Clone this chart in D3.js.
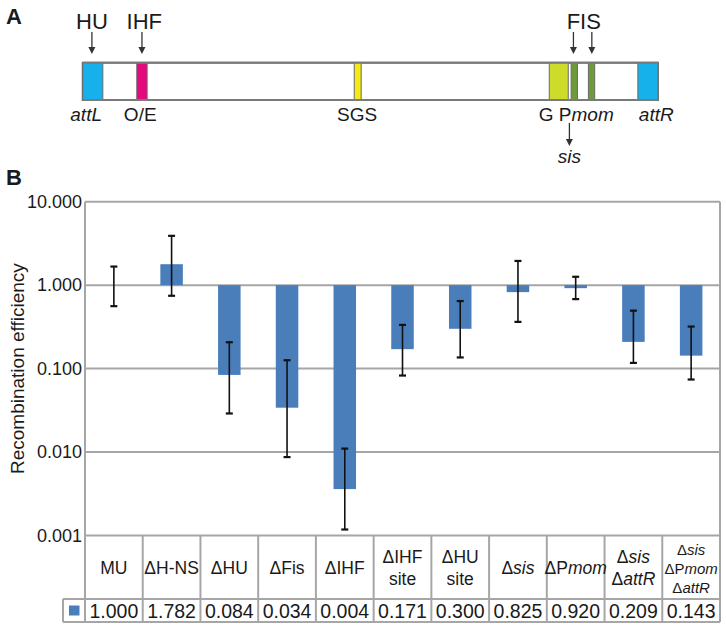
<!DOCTYPE html>
<html>
<head>
<meta charset="utf-8">
<script src="https://cdn.jsdelivr.net/npm/d3@7"></script>
<style>
  html, body { margin: 0; padding: 0; background: #fff; }
  svg { display: block; font-family: "Liberation Sans", Arial, sans-serif; }
</style>
</head>
<body>
<svg id="chart" width="726" height="628"></svg>
<script>
// ---------- DATA ----------
// Panel B: categories (header text; *...* = italic, | = line break), values, error bar limits
const categories = ["MU", "ΔH-NS", "ΔHU", "ΔFis", "ΔIHF", "ΔIHF|site", "ΔHU|site", "Δ*sis*", "ΔP*mom*", "Δ*sis*|Δ*attR*", "Δ*sis*|ΔP*mom*|Δ*attR*"];
const values     = [1.000, 1.782, 0.084, 0.034, 0.0036, 0.171, 0.300, 0.825, 0.920, 0.209, 0.143];
const errHigh    = [1.67, 3.9, 0.207, 0.126, 0.011, 0.334, 0.645, 1.95, 1.26, 0.495, 0.319];
const errLow     = [0.56, 0.746, 0.029, 0.0087, 0.00118, 0.0826, 0.136, 0.363, 0.68, 0.117, 0.074];
const yTicks     = [10, 1, 0.1, 0.01, 0.001];
const yTitle     = "Recombination efficiency";

// Panel A: schematic features (positions in schematic units 0..1000)
const featureNames  = ["attL", "O/E", "SGS", "G", "P1", "P2", "attR"];
const featureStart  = [0, 94, 472, 811, 849, 879, 965];
const featureEnd    = [35, 112, 484, 844, 860, 890, 1000];
const featureColors = ["#16b1ea", "#e5097f", "#f5ea14", "#cddc2b", "#6f9a3c", "#6f9a3c", "#16b1ea"];
// labels under the bar
const bottomLabels   = ["*attL*", "O/E", "SGS", "G P*mom*", "*attR*"];
const bottomLabelPos = [6, 100, 477, 858, 997];
// proteins with arrows above
const topLabels      = ["HU", "IHF", "FIS"];
const topLabelPos    = [16, 107, 871];
const topArrowPos    = [16, 103, 853, 885];
// sis arrow below
const sisArrowPos    = 846;
const sisLabel       = "*sis*";

(function () {
function richText(sel, str) {
  const parts = str.split("*");
  parts.forEach((p, i) => {
    if (!p) return;
    sel.append("tspan").text(p).attr("font-style", i % 2 === 1 ? "italic" : "normal");
  });
}

const svg = d3.select("#chart");
const ink = "#1a1a1a";

// ---------- PANEL A ----------
const gx = d3.scaleLinear().domain([0, 1000]).range([82.7, 658]);
const barTop = 62.7, barBot = 100;

svg.append("text").attr("x", 6).attr("y", 24).attr("font-size", 22).attr("font-weight", "bold").attr("fill", ink).text("A");

svg.append("rect").attr("x", gx(0)).attr("y", barTop).attr("width", gx(1000) - gx(0)).attr("height", barBot - barTop)
  .attr("fill", "#fff").attr("stroke", "#7a7a7a").attr("stroke-width", 2);

svg.selectAll("rect.feat").data(featureNames).enter().append("rect").attr("class", "feat")
  .attr("x", (d, i) => gx(featureStart[i]))
  .attr("y", barTop)
  .attr("width", (d, i) => gx(featureEnd[i]) - gx(featureStart[i]))
  .attr("height", barBot - barTop)
  .attr("fill", (d, i) => featureColors[i])
  .attr("stroke", "#6a6a6a").attr("stroke-width", 1);

svg.append("line").attr("x1", gx(0)).attr("x2", gx(1000)).attr("y1", barTop).attr("y2", barTop).attr("stroke", "#7a7a7a").attr("stroke-width", 2);
svg.append("line").attr("x1", gx(0)).attr("x2", gx(1000)).attr("y1", barBot).attr("y2", barBot).attr("stroke", "#7a7a7a").attr("stroke-width", 2);

function arrow(xp, y1, y2) {
  svg.append("line").attr("x1", xp).attr("x2", xp).attr("y1", y1).attr("y2", y2 - 5)
    .attr("stroke", "#333").attr("stroke-width", 1.3);
  svg.append("path").attr("d", `M${xp - 3.5},${y2 - 7} L${xp + 3.5},${y2 - 7} L${xp},${y2} Z`).attr("fill", "#333");
}

topLabels.forEach((t, i) => {
  svg.append("text").attr("x", gx(topLabelPos[i])).attr("y", 29).attr("text-anchor", "middle")
    .attr("font-size", 22).attr("fill", ink).text(t);
});
topArrowPos.forEach(p => arrow(gx(p), 32, 54));

bottomLabels.forEach((t, i) => {
  const el = svg.append("text").attr("x", gx(bottomLabelPos[i])).attr("y", 121).attr("text-anchor", "middle")
    .attr("font-size", 19).attr("fill", ink);
  richText(el, t);
});
arrow(gx(sisArrowPos), 123, 146);
const sisEl = svg.append("text").attr("x", gx(sisArrowPos)).attr("y", 163).attr("text-anchor", "middle")
  .attr("font-size", 19).attr("fill", ink);
richText(sisEl, sisLabel);

// ---------- PANEL B ----------
svg.append("text").attr("x", 6).attr("y", 185).attr("font-size", 22).attr("font-weight", "bold").attr("fill", ink).text("B");

const pLeft = 85, pRight = 720, pTop = 201.7, pBottom = 535.5;
const tableMid = 599, tableBot = 622, legendLeft = 63;
const grid = "#a6a6a6";

const x = d3.scaleBand().domain(categories).range([pLeft, pRight]).paddingInner(0).paddingOuter(0);
const y = d3.scaleLog().domain([0.001, 10]).range([pBottom, pTop]);

svg.append("g").selectAll("line").data(yTicks).enter().append("line")
  .attr("x1", pLeft).attr("x2", pRight).attr("y1", d => y(d)).attr("y2", d => y(d))
  .attr("stroke", grid).attr("stroke-width", 2);
svg.append("line").attr("x1", pRight).attr("x2", pRight).attr("y1", pTop).attr("y2", tableBot).attr("stroke", grid).attr("stroke-width", 2);

const yAxis = d3.axisLeft(y).tickValues(yTicks).tickFormat(d3.format(".3f")).tickSize(0).tickPadding(3);
const ya = svg.append("g").attr("transform", `translate(${pLeft},0)`).call(yAxis);
ya.select(".domain").remove();
ya.selectAll("text").attr("font-size", 18).attr("fill", ink).attr("font-family", "Liberation Sans, Arial, sans-serif");
svg.append("line").attr("x1", pLeft).attr("x2", pLeft).attr("y1", pTop).attr("y2", tableBot).attr("stroke", grid).attr("stroke-width", 2);

svg.append("text").attr("transform", `translate(24,${(pTop + pBottom) / 2}) rotate(-90)`)
  .attr("text-anchor", "middle").attr("font-size", 19).attr("fill", ink).text(yTitle);

const bw = x.bandwidth() * 0.39;
svg.append("g").selectAll("rect").data(categories).enter().append("rect")
  .attr("x", d => x(d) + (x.bandwidth() - bw) / 2)
  .attr("y", (d, i) => Math.min(y(values[i]), y(1)))
  .attr("width", bw)
  .attr("height", (d, i) => Math.abs(y(values[i]) - y(1)))
  .attr("fill", "#4a7ebb");

const eb = svg.append("g").attr("stroke", "#111").attr("stroke-width", 1.6);
categories.forEach((c, i) => {
  const cx = x(c) + x.bandwidth() / 2;
  eb.append("line").attr("x1", cx).attr("x2", cx).attr("y1", y(errHigh[i])).attr("y2", y(errLow[i]));
  eb.append("line").attr("x1", cx - 3.5).attr("x2", cx + 3.5).attr("y1", y(errHigh[i])).attr("y2", y(errHigh[i])).attr("stroke-width", 2.2);
  eb.append("line").attr("x1", cx - 3.5).attr("x2", cx + 3.5).attr("y1", y(errLow[i])).attr("y2", y(errLow[i])).attr("stroke-width", 2.2);
});

// ---------- DATA TABLE ----------
const tg = svg.append("g");
categories.forEach((c) => {
  tg.append("line").attr("x1", x(c)).attr("x2", x(c)).attr("y1", pBottom).attr("y2", tableBot).attr("stroke", grid).attr("stroke-width", 2);
});
tg.append("line").attr("x1", legendLeft).attr("x2", pRight).attr("y1", tableMid).attr("y2", tableMid).attr("stroke", grid).attr("stroke-width", 2);
tg.append("line").attr("x1", legendLeft).attr("x2", pRight).attr("y1", tableBot).attr("y2", tableBot).attr("stroke", grid).attr("stroke-width", 2);
tg.append("line").attr("x1", legendLeft).attr("x2", legendLeft).attr("y1", tableMid).attr("y2", tableBot).attr("stroke", grid).attr("stroke-width", 2);

categories.forEach((c) => {
  const lines = c.split("|");
  const fs = lines.length >= 3 ? 15 : 17.5;
  const lh = lines.length >= 3 ? 19 : 22;
  const cy = (pBottom + tableMid) / 2 + 1;
  const cx = x(c) + x.bandwidth() / 2;
  lines.forEach((ln, j) => {
    const t = tg.append("text").attr("x", cx)
      .attr("y", cy + (j - (lines.length - 1) / 2) * lh)
      .attr("dy", "0.35em").attr("text-anchor", "middle").attr("font-size", fs).attr("fill", ink);
    richText(t, ln);
  });
});

tg.append("rect").attr("x", 69).attr("y", (tableMid + tableBot) / 2 - 5).attr("width", 10.5).attr("height", 10).attr("fill", "#4a7ebb");
const fmt = d3.format(".3f");
categories.forEach((c, i) => {
  tg.append("text").attr("x", x(c) + x.bandwidth() / 2).attr("y", (tableMid + tableBot) / 2 + 0.5)
    .attr("dy", "0.36em").attr("text-anchor", "middle").attr("font-size", 19.5).attr("fill", ink)
    .text(fmt(values[i]));
});
})();
</script>
</body>
</html>
